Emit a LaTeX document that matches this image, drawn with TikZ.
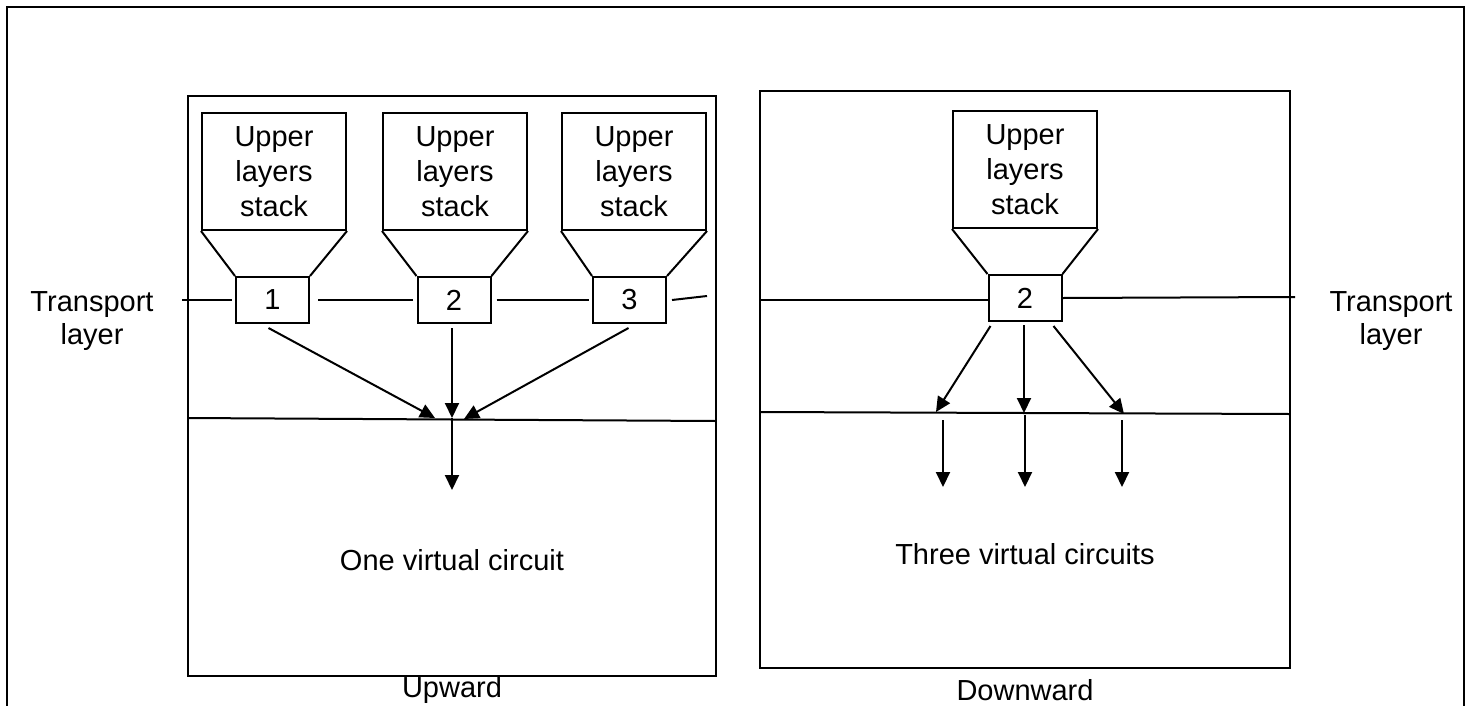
\documentclass[tikz,border=0pt]{standalone}
\usepackage{fontspec}
\setmainfont{Liberation Sans}
\usetikzlibrary{arrows.meta,positioning}

\tikzset{
  stackbox/.style={draw, minimum width=144pt, minimum height=117pt, inner sep=0pt, align=center, font=\fontsize{29}{35}\selectfont},
  portbox/.style={draw, minimum width=73pt, minimum height=46pt, inner sep=0pt, font=\fontsize{29}{33}\selectfont},
  flow/.style={-{Triangle[length=15pt,width=14pt]}},
  lbl/.style={font=\fontsize{29}{33}\selectfont, inner sep=0pt}
}

\begin{document}
\begin{tikzpicture}[x=1pt,y=-1pt,line width=2pt]
  \useasboundingbox (0,0) rectangle (1468,705);
  % outer frame, open at the bottom
  \draw[line width=2.6pt] (7,710) -- (7,7) -- (1464,7) -- (1464,710);

  % upward panel
  \draw (188,96) rectangle (716,676);
  \foreach \n/\x/\xp in {1/274/272.5,2/455/454,3/634/629.5} {
      \node[stackbox] (up\n) at (\x,171.5) {Upper\\layers\\stack};
      \node[portbox] (vc\n) at (\xp,300) {\n};
      \draw (up\n.south west) -- (vc\n.north west);
      \draw (up\n.south east) -- (vc\n.north east);
    }
  \draw (182,300) -- ([xshift=-3pt]vc1.west);
  \draw ([xshift=8pt]vc1.east) -- ([xshift=-4pt]vc2.west);
  \draw ([xshift=5pt]vc2.east) -- ([xshift=-3pt]vc3.west);
  \draw ([xshift=5pt]vc3.east) -- (707,296);
  \draw (188,418) -- (716,421);
  \coordinate (m1) at (435,418);
  \coordinate (m2) at (452,418);
  \coordinate (m3) at (464,419);
  \coordinate (o1) at (452,490);
  \draw[flow] ([xshift=-4pt,yshift=-4pt]vc1.south) -- (m1);
  \draw[flow] ([xshift=-2pt,yshift=-4pt]vc2.south) -- (m2);
  \draw[flow] ([xshift=-1pt,yshift=-4pt]vc3.south) -- (m3);
  \draw[flow] (m2) -- (o1);
  \node[lbl] (onevc) at (452,560) {One virtual circuit};
  \node[lbl] (upw) at (452,690) {Upward};

  % downward panel
  \draw (760,91) rectangle (1290,668);
  \node[stackbox] (rup) at (1025,169.5) {Upper\\layers\\stack};
  \node[portbox] (rvc) at (1025,298) {2};
  \draw (rup.south west) -- (rvc.north west);
  \draw (rup.south east) -- (rvc.north east);
  \draw (761,300) -- ([yshift=-2pt]rvc.west);
  \draw (rvc.east) -- (1295,297);
  \draw (760,412) -- (1290,414);
  \coordinate (n1) at (936,412);
  \coordinate (n2) at (1024,413);
  \coordinate (n3) at (1124,414);
  \draw[flow] ([xshift=3pt,yshift=-4pt]rvc.south west) -- (n1);
  \draw[flow] ([xshift=-1pt,yshift=-3pt]rvc.south) -- (n2);
  \draw[flow] ([xshift=-9pt,yshift=-4pt]rvc.south east) -- (n3);
  \foreach \i/\x/\y in {1/943/420,2/1025/415,3/1122/420} {
      \coordinate (s\i) at (\x,\y);
      \coordinate (e\i) at (\x,487);
      \draw[flow] (s\i) -- (e\i);
    }
  \node[lbl] (threevc) at (1025,554) {Three virtual circuits};
  \node[lbl] (dnw) at (1025,690) {Downward};

  % layer labels
  \node[lbl, align=center] (tl) at (92,321) {Transport\\layer};
  \node[lbl, align=center] (tr) at (1391,321) {Transport\\layer};
\end{tikzpicture}
\end{document}
